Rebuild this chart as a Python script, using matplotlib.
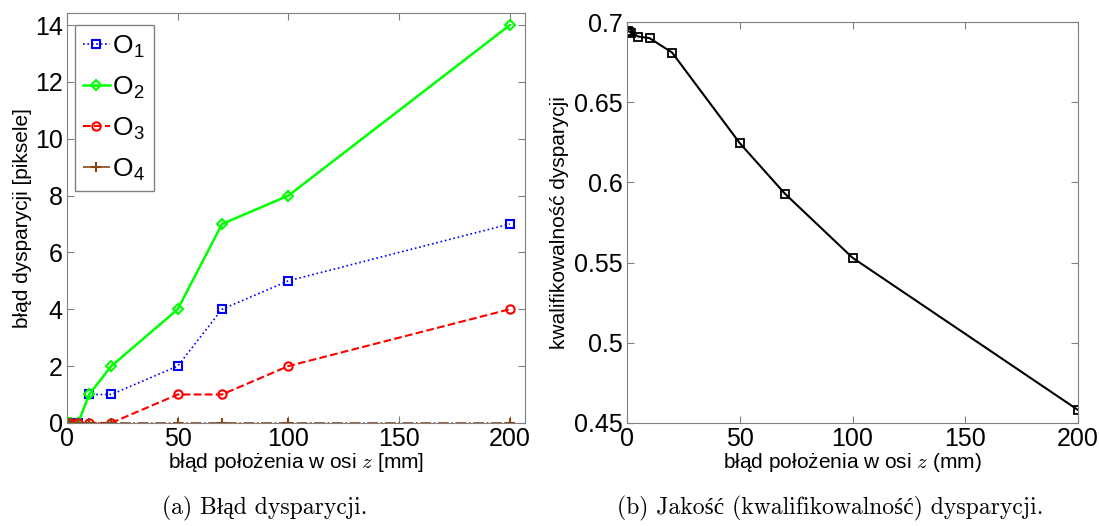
import matplotlib
matplotlib.use('Agg')
import matplotlib.pyplot as plt

# dane - wykres (a)
x_a = [0, 1, 2, 5, 10, 20, 50, 70, 100, 200]
o1 = [0, 0, 0, 0, 1, 1, 2, 4, 5, 7]
o2 = [0, 0, 0, 0, 1, 2, 4, 7, 8, 14]
o3 = [0, 0, 0, 0, 0, 0, 1, 1, 2, 4]
o4 = [0, 0, 0, 0, 0, 0, 0, 0, 0, 0]

# dane - wykres (b)
x_b = [0, 0.5, 1, 2, 5, 10, 20, 50, 70, 100, 200]
jakosc = [0.694, 0.6945, 0.694, 0.6935, 0.691, 0.690, 0.681, 0.6245, 0.593, 0.553, 0.458]

plt.rcParams['font.family'] = ['Liberation Sans', 'DejaVu Sans']
plt.rcParams['mathtext.fontset'] = 'custom'
plt.rcParams['mathtext.rm'] = 'Liberation Sans'
plt.rcParams['mathtext.it'] = 'cmmi10'

szary = '#808080'


def styl_osi(ax):
    for s in ax.spines.values():
        s.set_color(szary)
    ax.tick_params(direction='in', top=True, right=True, color=szary,
                   labelsize=18, length=5, pad=3)


fig = plt.figure(figsize=(10.99, 5.26), dpi=100)

# Wykres (a)
ax1 = fig.add_axes([0.061, 0.196, 0.417, 0.779])
ax1.plot(x_a, o1, ':', color='blue', marker='s', mfc='none', ms=6, mew=1.5, lw=1.2, label='O$_1$')
ax1.plot(x_a, o2, '-', color='#00ff00', marker='D', mfc='none', ms=5, mew=1.5, lw=1.8, label='O$_2$')
ax1.plot(x_a, o3, '--', color='red', marker='o', mfc='none', ms=6, mew=1.5, lw=1.5, label='O$_3$')
ax1.plot(x_a, o4, '-.', color='#8b4513', marker='+', ms=7, mew=1.5, lw=1.2, label='O$_4$')
ax1.set_xlim(0, 207)
ax1.set_ylim(0, 14.42)
ax1.set_xticks([0, 50, 100, 150, 200])
ax1.set_yticks([0, 2, 4, 6, 8, 10, 12, 14])
styl_osi(ax1)
ax1.set_xlabel(r'błąd położenia w osi $z$ [mm]', fontsize=15, labelpad=0)
ax1.set_ylabel('błąd dysparycji [piksele]', fontsize=15, labelpad=2)
leg = ax1.legend(loc='upper left', fontsize=19, handlelength=1.0, handletextpad=0.1,
                 borderpad=0.3, labelspacing=0.55, fancybox=False, framealpha=1,
                 bbox_to_anchor=(0.018, 0.97), borderaxespad=0)
leg.get_frame().set_edgecolor(szary)

# Wykres (b)
ax2 = fig.add_axes([0.5705, 0.196, 0.4105, 0.762])
ax2.plot(x_b, jakosc, '-', color='black', marker='s', mfc='none', ms=6, mew=1.3, lw=1.5)
ax2.set_xlim(0, 200)
ax2.set_ylim(0.45, 0.7)
ax2.set_xticks([0, 50, 100, 150, 200])
ax2.set_yticks([0.45, 0.5, 0.55, 0.6, 0.65, 0.7])
ax2.set_yticklabels(['0.45', '0.5', '0.55', '0.6', '0.65', '0.7'])
styl_osi(ax2)
ax2.set_xlabel(r'błąd położenia w osi $z$ (mm)', fontsize=15, labelpad=0)
ax2.set_ylabel('kwalifikowalność dysparycji', fontsize=15, labelpad=4)

# podpisy
podpis = dict(fontsize=17, family=['cmr10', 'Liberation Serif'], ha='center', va='center')
fig.text(265 / 1099, 1 - 508 / 526, '(a) Błąd dysparycji.', **podpis)
fig.text(830 / 1099, 1 - 508 / 526, '(b) Jakość (kwalifikowalność) dysparycji.', **podpis)

fig.savefig('out.png', dpi=100)
